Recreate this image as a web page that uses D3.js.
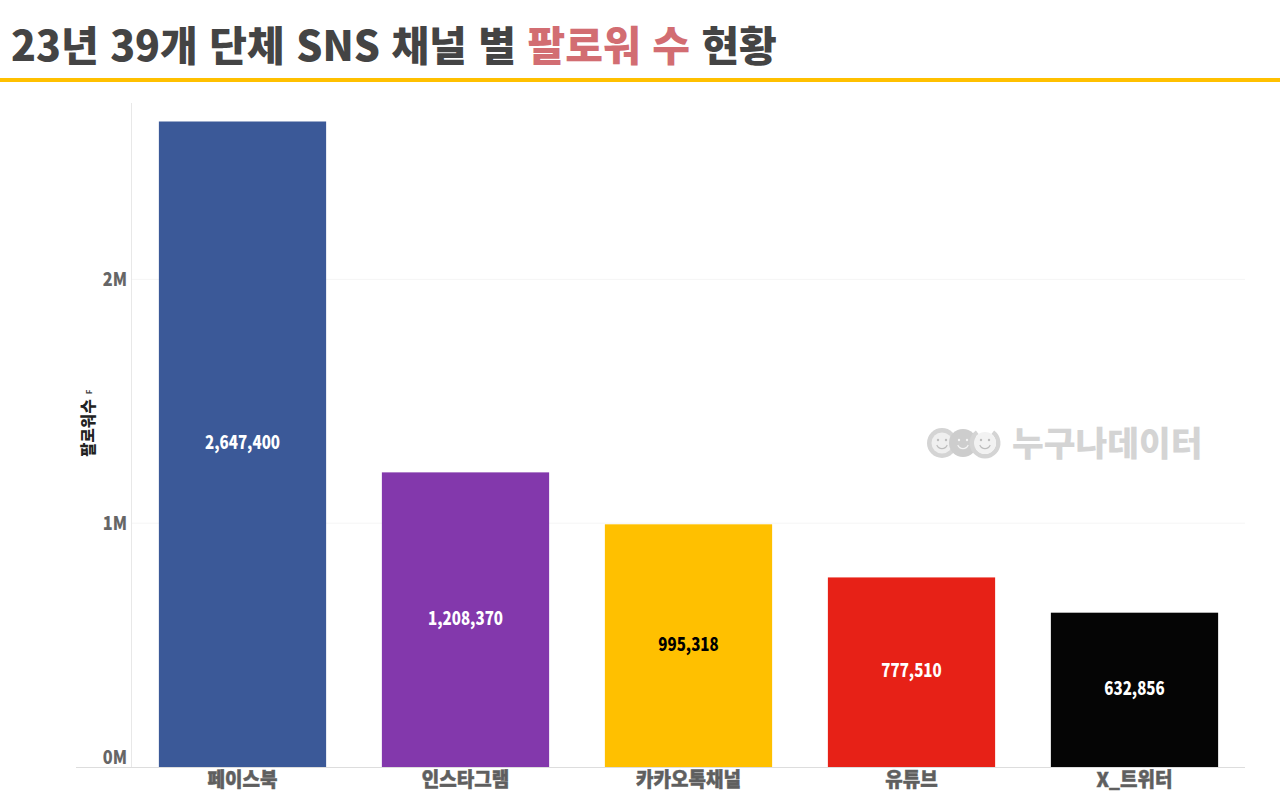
<!DOCTYPE html>
<html lang="ko"><head><meta charset="utf-8">
<script src="https://cdnjs.cloudflare.com/ajax/libs/d3/7.8.5/d3.min.js"></script>
<style>
html,body{margin:0;padding:0;background:#fff;overflow:hidden}
svg{display:block}
text{font-family:"Noto Sans CJK KR","Noto Sans",sans-serif}
</style></head><body>
<svg id="c" width="1280" height="796"></svg>
<script>
const categories = ["페이스북","인스타그램","카카오톡채널","유튜브","X_트위터"];
const followers = [2647400,1208370,995318,777510,632856];
const barColors = ["#3b5998","#8338ac","#ffc000","#e72117","#050505"];
const labelColors = ["#ffffff","#ffffff","#000000","#ffffff","#ffffff"];
const yTicks = [0,1000000,2000000];
const titleParts = [["23년 39개 단체 SNS 채널 별 ","#444444"],["팔로워 수","#d26d72"],[" 현황","#444444"]];
const yLabel = "팔로워 수";
const watermark = "누구나데이터";

const svg = d3.select("#c");
const x = d3.scaleBand().domain(categories).range([131,1246]).paddingInner(0.25).paddingOuter(0.125);
const y = d3.scaleLinear().domain([0,2647400]).range([767,121.5]);

// Title
svg.append("text").attr("x",11).attr("y",61).attr("font-size",41).attr("font-weight",900)
  .attr("id","title").style("white-space","pre")
  .selectAll("tspan").data(titleParts).join("tspan").attr("fill",d=>d[1]).text(d=>d[0]);
svg.append("rect").attr("x",0).attr("y",78).attr("width",1280).attr("height",4).attr("fill","#ffc000");

// Gridlines
svg.append("g").selectAll("line").data(yTicks.slice(1)).join("line")
  .attr("x1",131).attr("x2",1245).attr("y1",d=>y(d)).attr("y2",d=>y(d))
  .attr("stroke","#f5f5f5").attr("stroke-width",1);

// Watermark (behind bars)
const wm = svg.append("g").attr("fill","#d4d4d4");
const faces = [942,963,985];
faces.forEach((cx,i)=>{
  const g = wm.append("g").attr("transform",`translate(${cx},443)`);
  if(i===2){
    g.append("path").attr("d",d3.arc()({innerRadius:11,outerRadius:15.5,startAngle:Math.PI*0.2,endAngle:Math.PI*1.8})).attr("fill","#d4d4d4");
    g.append("circle").attr("r",11).attr("fill","#f2f2f2");
  } else {
    g.append("circle").attr("r",i===1?14:15).attr("fill",i===1?"#cdcdcd":"#d4d4d4");
    if(i===0) g.append("circle").attr("r",10.5).attr("fill","#efefef");
  }
  const fc = i===1?"#f4f4f4":"#bdbdbd";
  [-4,4].forEach(dx=>g.append("circle").attr("cx",dx).attr("cy",-3).attr("r",1.2).attr("fill",fc));
  g.append("path").attr("d",d3.arc()({innerRadius:5,outerRadius:6.2,startAngle:Math.PI*0.62,endAngle:Math.PI*1.38})).attr("fill",fc);
});
wm.append("text").attr("x",1012).attr("y",456).attr("font-size",34.5).attr("font-weight",900)
  .attr("fill","#d4d4d4").text(watermark);

// Bars
svg.append("g").selectAll("rect").data(followers).join("rect")
  .attr("x",(d,i)=>x(categories[i])).attr("width",x.bandwidth())
  .attr("y",d=>y(d)).attr("height",d=>y(0)-y(d))
  .attr("fill",(d,i)=>barColors[i]);

// Value labels
svg.append("g").selectAll("text").data(followers).join("text")
  .attr("transform",(d,i)=>`translate(${x(categories[i])+x.bandwidth()/2},${(y(d)+y(0))/2+5}) scale(0.84,1)`)
  .attr("text-anchor","middle").attr("font-size",18).attr("font-weight",900)
  .attr("fill",(d,i)=>labelColors[i]).text(d=>d3.format(",")(d));

// Y axis
const yAxis = d3.axisLeft(y).tickValues(yTicks).tickSize(0).tickPadding(0).tickFormat(d=>(d/1e6)+"M");
const gy = svg.append("g").attr("transform","translate(127,0)").call(yAxis);
gy.select(".domain").remove();
gy.selectAll("text").attr("font-size",19).attr("font-weight",900).attr("fill","#666666")
  .attr("font-family",'"Roboto","Noto Sans CJK KR",sans-serif');
gy.selectAll(".tick text").attr("transform","scale(0.86,1)").attr("x",0)
  .attr("dy",d=>d===0?"-0.2em":"0.32em");
svg.append("line").attr("x1",131.5).attr("x2",131.5).attr("y1",103).attr("y2",767).attr("stroke","#e8e8e8").attr("stroke-width",1);

// X axis
const xAxis = d3.axisBottom(x).tickSize(0).tickPadding(0);
const gx = svg.append("g").attr("transform","translate(0,767)").call(xAxis);
gx.select(".domain").attr("d","M76,0.5H1245").attr("stroke","#dddddd").attr("stroke-width",1);
gx.selectAll("text").attr("font-size",20).attr("font-weight",900).attr("fill","#5f5f5f")
  .attr("stroke","#5f5f5f").attr("stroke-width",0.5)
  .attr("transform","scale(0.95,1)").attr("y",6).attr("dy","0.71em");

// Y title
const yt = svg.append("g").attr("transform","translate(94,428) rotate(-90)");
yt.append("text").attr("text-anchor","middle").attr("font-size",15.5).attr("font-weight",900)
  .attr("word-spacing",-4).attr("fill","#222222").text(yLabel);
yt.append("text").attr("x",36).attr("y",-2).attr("text-anchor","middle").attr("font-size",8).attr("font-weight",700).attr("fill","#444444").text("F");
</script>
</body></html>
